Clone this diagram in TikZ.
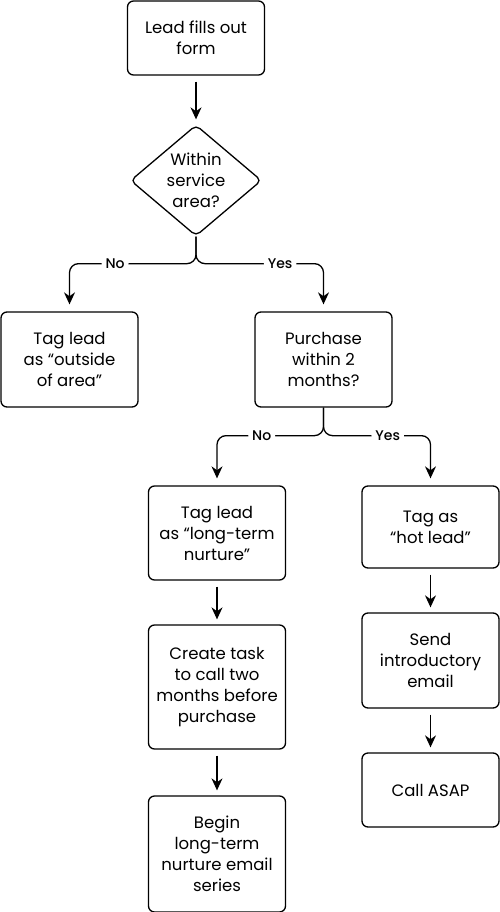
\documentclass[tikz,border=0pt]{standalone}
\usepackage{fontspec}
\setmainfont{Poppins}
\newfontfamily\answerfont{Poppins Medium}
\usetikzlibrary{arrows.meta,shapes.geometric}
\begin{document}
\begin{tikzpicture}
  [x=1pt,y=-1pt,line width=1.3pt,
   box/.style={draw,rounded corners=6pt,minimum width=137pt,align=center,
     inner sep=2pt,font=\fontsize{16.5}{21}\selectfont},
   decision/.style={draw,diamond,rounded corners=5pt,aspect=1.18,inner sep=-6pt,
     minimum width=131pt,minimum height=111pt,align=center,
     font=\fontsize{16.5}{21}\selectfont},
   answer/.style={fill=white,inner sep=4pt,font=\answerfont\fontsize{14}{15}\selectfont},
   flow/.style={-{Stealth[length=12pt,width=11pt]},shorten <=6pt,shorten >=5pt},
   fork/.style={-{Stealth[length=12pt,width=11pt]},rounded corners=9pt,shorten >=7pt}]
  \useasboundingbox (0,0) rectangle (500,912);

  \node[box,minimum height=74pt] (form) at (196,38) {Lead fills out\\form};
  \node[decision] (area) at (196,180.5) {Within\\service\\area?};
  \node[box,minimum height=95pt] (outside) at (69.5,359.5) {Tag lead\\as “outside\\of area”};
  \node[box,minimum height=95pt] (purchase) at (323.5,359.5) {Purchase\\within 2\\months?};
  \node[box,minimum height=94pt] (nurture) at (217,533) {Tag lead\\as “long-term\\nurture”};
  \node[box,minimum height=82pt] (hot) at (430.5,527) {Tag as\\“hot lead”};
  \node[box,minimum height=124pt] (task) at (217,687) {Create task\\to call two\\months before\\purchase};
  \node[box,minimum height=95pt] (send) at (430.5,660.5) {Send\\introductory\\email};
  \node[box,minimum height=74pt] (asap) at (430.5,790) {Call ASAP};
  \node[box,minimum height=116pt] (series) at (217,854) {Begin\\long-term\\nurture email\\series};

  \foreach \from/\to in {form/area,nurture/task,task/series,hot/send,send/asap}
    \draw[flow] (\from) -- (\to);

  \draw[fork] (area.south) -- ++(0,27) -| node[answer,pos=0.32] {No} (outside.north);
  \draw[fork] (area.south) -- ++(0,27) -| node[answer,pos=0.33] {Yes} (purchase.north);
  \draw[fork] (purchase.south) -- ++(0,28) -| node[answer,pos=0.29] {No} (nurture.north);
  \draw[fork] (purchase.south) -- ++(0,28) -| node[answer,pos=0.3] {Yes} (hot.north);
\end{tikzpicture}
\end{document}
